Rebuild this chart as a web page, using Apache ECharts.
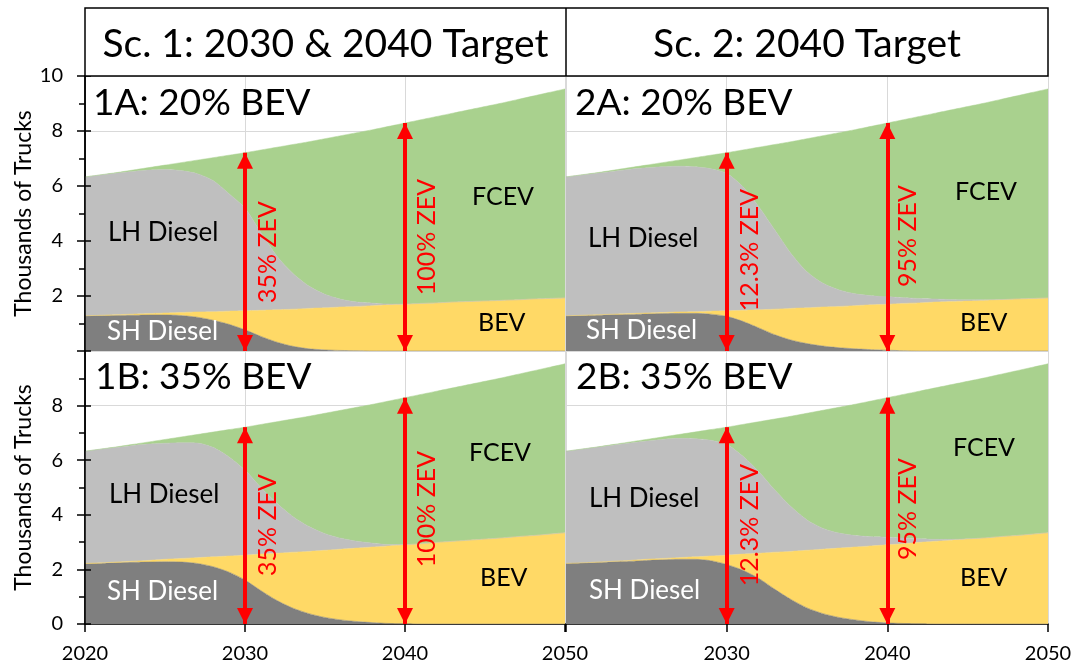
<!DOCTYPE html>
<html><head><meta charset="utf-8">
<script src="https://cdn.jsdelivr.net/npm/echarts@6/dist/echarts.min.js"></script>
<style>html,body{margin:0;padding:0;background:#fff}#c{width:1078px;height:667px}#err{position:absolute;left:100px;top:300px;color:#00f;font:14px monospace;z-index:9}</style>
</head><body><div id="c"></div><div id="err"></div>
<script>
window.onerror = function (m) { document.getElementById('err').textContent += ' ERR: ' + m; };
// ---------- DATA (thousands of trucks) ----------
const years = [2020,2021,2022,2023,2024,2025,2026,2027,2028,2029,2030,2031,2032,2033,2034,2035,2036,2037,2038,2039,2040,2041,2042,2043,2044,2045,2046,2047,2048,2049,2050];
const seriesNames = ['SH Diesel','BEV','LH Diesel','FCEV'];

// Scenario 1A: 20% BEV
const sc1A_SH   = [1.27,1.28,1.29,1.30,1.31,1.31,1.29,1.23,1.12,0.97,0.77,0.53,0.32,0.17,0.08,0.04,0.02,0.01,0,0,0,0,0,0,0,0,0,0,0,0,0];
const sc1A_BEV  = [0.01,0.02,0.03,0.04,0.05,0.07,0.11,0.19,0.31,0.48,0.69,0.95,1.18,1.35,1.47,1.53,1.58,1.61,1.65,1.68,1.70,1.73,1.75,1.78,1.80,1.82,1.84,1.86,1.89,1.91,1.93];
const sc1A_LH   = [5.05,5.10,5.15,5.19,5.22,5.22,5.16,5.03,4.77,4.27,3.74,2.82,1.95,1.30,0.81,0.49,0.28,0.16,0.09,0.03,0.01,0,0,0,0,0,0,0,0,0,0];
const sc1A_FCEV = [0,0.01,0.02,0.05,0.09,0.16,0.29,0.49,0.83,1.40,2.01,3.01,3.96,4.69,5.25,5.66,5.95,6.16,6.31,6.46,6.58,6.68,6.78,6.87,6.97,7.07,7.17,7.28,7.38,7.49,7.60];

// Scenario 2A: 20% BEV
const sc2A_SH   = [1.27,1.28,1.30,1.32,1.33,1.35,1.36,1.37,1.37,1.34,1.26,1.08,0.84,0.59,0.40,0.27,0.18,0.12,0.08,0.05,0.03,0.01,0,0,0,0,0,0,0,0,0];
const sc2A_BEV  = [0.01,0.02,0.02,0.02,0.03,0.03,0.04,0.05,0.06,0.11,0.20,0.40,0.66,0.93,1.15,1.30,1.42,1.50,1.57,1.63,1.67,1.72,1.75,1.78,1.80,1.82,1.84,1.86,1.89,1.91,1.93];
const sc2A_LH   = [5.05,5.10,5.15,5.20,5.25,5.28,5.30,5.30,5.27,5.18,5.00,4.50,3.75,2.88,2.00,1.31,0.86,0.60,0.43,0.33,0.27,0.21,0.16,0.11,0.07,0.04,0.02,0.01,0,0,0];
const sc2A_FCEV = [0,0.01,0.02,0.04,0.06,0.10,0.15,0.22,0.33,0.49,0.75,1.33,2.16,3.11,4.06,4.84,5.37,5.72,5.97,6.16,6.32,6.47,6.62,6.76,6.90,7.03,7.15,7.27,7.38,7.49,7.60];

// Scenario 1B: 35% BEV
const sc1B_SH   = [2.20,2.22,2.24,2.26,2.27,2.28,2.27,2.22,2.10,1.90,1.61,1.22,0.86,0.58,0.38,0.24,0.15,0.09,0.05,0.02,0.01,0,0,0,0,0,0,0,0,0,0];
const sc1B_BEV  = [0.02,0.02,0.03,0.04,0.06,0.09,0.13,0.21,0.36,0.59,0.91,1.34,1.73,2.05,2.28,2.46,2.59,2.69,2.77,2.84,2.89,2.94,2.99,3.03,3.07,3.11,3.15,3.20,3.24,3.29,3.34];
const sc1B_LH   = [4.11,4.16,4.20,4.24,4.26,4.25,4.24,4.20,4.01,3.63,3.12,2.44,1.83,1.30,0.91,0.61,0.40,0.25,0.14,0.05,0.01,0,0,0,0,0,0,0,0,0,0];
const sc1B_FCEV = [0,0.01,0.02,0.04,0.08,0.14,0.21,0.31,0.56,1.00,1.57,2.31,2.99,3.58,4.04,4.41,4.69,4.91,5.09,5.26,5.38,5.47,5.54,5.62,5.70,5.78,5.86,5.94,6.03,6.11,6.19];

// Scenario 2B: 35% BEV
const sc2B_SH   = [2.21,2.23,2.25,2.28,2.30,2.33,2.35,2.37,2.37,2.32,2.18,1.97,1.67,1.27,0.90,0.59,0.38,0.24,0.15,0.08,0.04,0.02,0.01,0,0,0,0,0,0,0,0];
const sc2B_BEV  = [0.01,0.01,0.02,0.02,0.03,0.04,0.05,0.06,0.09,0.17,0.34,0.59,0.92,1.36,1.76,2.11,2.36,2.54,2.67,2.78,2.86,2.92,2.98,3.03,3.07,3.11,3.15,3.20,3.24,3.29,3.34];
const sc2B_LH   = [4.11,4.16,4.21,4.26,4.30,4.33,4.36,4.37,4.33,4.24,4.06,3.59,2.99,2.28,1.64,1.11,0.76,0.55,0.42,0.34,0.28,0.21,0.13,0.07,0.03,0.01,0,0,0,0,0];
const sc2B_FCEV = [0,0.01,0.01,0.02,0.04,0.06,0.09,0.14,0.24,0.39,0.63,1.16,1.83,2.60,3.31,3.91,4.33,4.61,4.81,4.97,5.11,5.26,5.41,5.55,5.67,5.77,5.86,5.94,6.03,6.11,6.19];

const targetYears = [2030, 2040];
const sc1ZevLabels = ['35% ZEV', '100% ZEV'];
const sc2ZevLabels = ['12.3% ZEV', '95% ZEV'];
const headerTitles = ['Sc. 1: 2030 & 2040 Target', 'Sc. 2: 2040 Target'];
const panelTitles = ['1A: 20% BEV', '2A: 20% BEV', '1B: 35% BEV', '2B: 35% BEV'];
const yTickLabels = [0, 2, 4, 6, 8, 10];
const xTickLabels = [2020, 2030, 2040, 2050];

// ---------- STYLE / LAYOUT ----------
const FONT = 'Lato';
const colors = ['#7f7f7f', '#ffd966', '#bfbfbf', '#a9d18e'];
const panels = [
  { data: [sc1A_SH, sc1A_BEV, sc1A_LH, sc1A_FCEV], zev: sc1ZevLabels },
  { data: [sc2A_SH, sc2A_BEV, sc2A_LH, sc2A_FCEV], zev: sc2ZevLabels },
  { data: [sc1B_SH, sc1B_BEV, sc1B_LH, sc1B_FCEV], zev: sc1ZevLabels },
  { data: [sc2B_SH, sc2B_BEV, sc2B_LH, sc2B_FCEV], zev: sc2ZevLabels }
];
const grids = [
  { left: 85,  top: 76,  width: 480, height: 275 },
  { left: 566, top: 76,  width: 482, height: 275 },
  { left: 85,  top: 351, width: 480, height: 273 },
  { left: 566, top: 351, width: 482, height: 273 }
];
const layout = [
  { title:[93,103],  lh:[108,233], sh:[107,332], fcev:[472,197], bev:[478,323], zev:[[268,252],[427,237]] },
  { title:[575,103], lh:[588,239], sh:[586,331], fcev:[955,192], bev:[960,323], zev:[[750,250],[908,236]] },
  { title:[95,377],  lh:[109,495], sh:[107,592], fcev:[469,453], bev:[480,578], zev:[[268,525],[427,509]] },
  { title:[576,377], lh:[589,499], sh:[589,591], fcev:[953,448], bev:[960,578], zev:[[750,525],[908,509]] }
];

const gridLineColor = '#d9d9d9';
const tickEvery = (idx) => xTickLabels.includes(years[idx]);
const xAxes = grids.map((g, i) => {
  const bottom = i >= 2;
  return {
    gridIndex: i, type: 'category', data: years, boundaryGap: false,
    axisLine: { show: bottom, lineStyle: { color: '#000', width: 1.5 } },
    axisTick: { show: bottom, length: 8, interval: tickEvery, lineStyle: { color: '#000', width: 1.5 } },
    axisLabel: { show: bottom, fontFamily: FONT, fontSize: 20, color: '#000', margin: 20,
      interval: tickEvery,
      formatter: (v, idx) => (i === 3 && idx === 0) ? '' : String(v) },
    splitLine: { show: true, interval: tickEvery, lineStyle: { color: gridLineColor, width: 1 } }
  };
});
const yAxes = grids.map((g, i) => {
  const leftCol = (i % 2 === 0);
  const top = i < 2;
  return {
    gridIndex: i, type: 'value', min: 0, max: 10, interval: 2,
    name: leftCol ? 'Thousands of Trucks' : '',
    nameLocation: 'middle', nameGap: 50,
    nameTextStyle: { fontFamily: FONT, fontSize: 23, color: '#000' },
    axisLine: { show: leftCol, lineStyle: { color: '#000', width: 1.5 } },
    axisTick: { show: leftCol, length: 8, lineStyle: { color: '#000', width: 1.5 } },
    minorTick: { show: leftCol, splitNumber: 2, length: 6, lineStyle: { color: '#000', width: 1.5 } },
    axisLabel: { show: leftCol, fontFamily: FONT, fontSize: 20, color: '#000', margin: 22,
      showMinLabel: !top, showMaxLabel: top,
      formatter: v => yTickLabels.includes(v) ? String(v) : '' },
    splitLine: { show: true, lineStyle: { color: gridLineColor, width: 1 } }
  };
});
// inner half of the crossing major ticks on the left axes (drawn above the areas)
[0, 2].forEach(gi => {
  yAxes.push({
    gridIndex: gi, type: 'value', min: 0, max: 10, interval: 2, position: 'left', z: 10,
    axisLine: { show: true, lineStyle: { color: '#000', width: 1.5 } },
    axisTick: { show: true, inside: true, length: 6, lineStyle: { color: '#000', width: 1.5 } },
    axisLabel: { show: false }, splitLine: { show: false }
  });
});

const series = [];
panels.forEach((p, i) => {
  p.data.forEach((arr, s) => {
    series.push({
      id: 'p' + i + 's' + s,
      name: seriesNames[s], type: 'line', stack: 'stack' + i,
      xAxisIndex: i, yAxisIndex: i,
      data: arr,
      showSymbol: false, symbol: 'none', smooth: 0.25,
      lineStyle: { width: 0.5, color: colors[s] },
      itemStyle: { color: colors[s] },
      areaStyle: { color: colors[s], opacity: 1 },
      z: 2
    });
  });
  const totalAt = yr => { const k = years.indexOf(yr); return p.data.reduce((a, arr) => a + arr[k], 0); };
  series.push({
    id: 'arrow' + i,
    type: 'line', xAxisIndex: i, yAxisIndex: i, data: [], silent: true, z: 5,
    markLine: {
      silent: true,
      symbol: ['triangle', 'triangle'], symbolSize: 16, symbolOffset: [[0, 8], [0, 8]],
      lineStyle: { color: '#ff0000', width: 4, type: 'solid' },
      label: { show: false },
      data: targetYears.map(t => [{ coord: [years.indexOf(t), 0] }, { coord: [years.indexOf(t), totalAt(t)] }])
    }
  });
});

const graphics = [];
graphics.push({ type: 'rect', shape: { x: 85, y: 8, width: 963, height: 68 }, style: { fill: '#fff', stroke: '#000', lineWidth: 1.5 }, z: 50 });
graphics.push({ type: 'line', shape: { x1: 566, y1: 8, x2: 566, y2: 76 }, style: { stroke: '#000', lineWidth: 1.5 }, z: 51 });
graphics.push({ type: 'text', x: 325.5, y: 44, z: 52, style: { text: headerTitles[0], fontFamily: FONT, fontSize: 39, fill: '#000', align: 'center', verticalAlign: 'middle' } });
graphics.push({ type: 'text', x: 807, y: 44, z: 52, style: { text: headerTitles[1], fontFamily: FONT, fontSize: 39, fill: '#000', align: 'center', verticalAlign: 'middle' } });

const txt = (t, pos, size, color) => ({
  type: 'text', x: pos[0], y: pos[1], z: 60,
  style: { text: t, fontFamily: FONT, fontSize: size, fill: color, align: 'left', verticalAlign: 'middle' }
});

layout.forEach((L, i) => {
  graphics.push(txt(panelTitles[i], L.title, 37, '#000'));
  graphics.push(txt('LH Diesel', L.lh, 26, '#000'));
  graphics.push(txt('SH Diesel', L.sh, 26, '#ffffff'));
  graphics.push(txt('FCEV', L.fcev, 25, '#000'));
  graphics.push(txt('BEV', L.bev, 25, '#000'));
  panels[i].zev.forEach((lab, j) => {
    graphics.push({ type: 'text', x: L.zev[j][0], y: L.zev[j][1], rotation: Math.PI / 2, z: 60,
      style: { text: lab, fontFamily: FONT, fontSize: 25, fill: '#ff0000', align: 'center', verticalAlign: 'middle' } });
  });
});

try {
  const chart = echarts.init(document.getElementById('c'), null, { renderer: 'canvas' });
  chart.setOption({
    backgroundColor: '#ffffff',
    animation: false,
    grid: grids,
    xAxis: xAxes,
    yAxis: yAxes,
    series: series,
    graphic: { elements: graphics }
  });
} catch (e) {
  document.getElementById('err').textContent += ' EXC: ' + e.message;
}
</script>
</body></html>
